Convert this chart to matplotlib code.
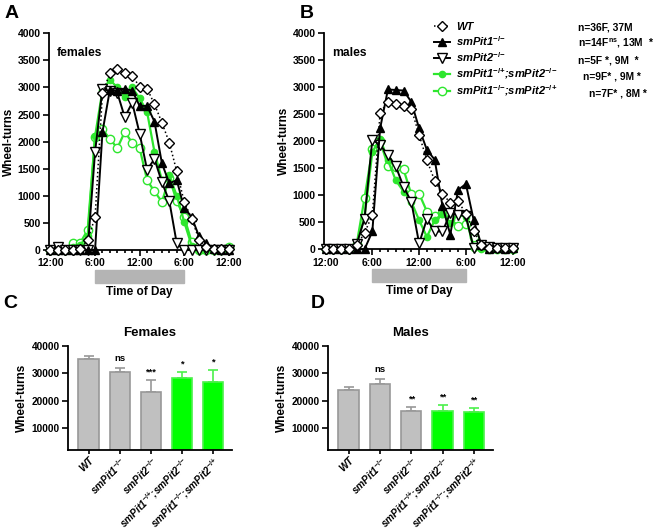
import numpy as np
import matplotlib
matplotlib.use('Agg')
import matplotlib.pyplot as plt
import matplotlib.transforms as mtransforms
from matplotlib.patches import Rectangle

plt.rcParams['font.family'] = ['Liberation Sans', 'DejaVu Sans']
plt.rcParams['font.weight'] = 'bold'
plt.rcParams['mathtext.fontset'] = 'custom'
plt.rcParams['mathtext.rm'] = 'Liberation Sans:bold'
plt.rcParams['mathtext.it'] = 'Liberation Sans:italic:bold'
plt.rcParams['mathtext.bf'] = 'Liberation Sans:bold'

# hourly bins, 12:00 (noon) -> 12:00 next day
hours = list(range(25))
time_ticks = [0, 6, 12, 18, 24]
time_labels = ['12:00', '6:00', '12:00', '6:00', '12:00']

# females (wheel-turns per hour)
wt_f = [0, 0, 0, 0, 20, 185, 600, 2900, 3260, 3340, 3260, 3220, 3010, 2980, 2690, 2350, 1980, 1450, 890, 580, 190, 50, 20, 20, 20]
pit1_f = [0, 0, 0, 0, 0, 0, 0, 2180, 2960, 2940, 2980, 2940, 2660, 2660, 2370, 1600, 1230, 1290, 770, 610, 250, 120, 10, 0, 0]
pit2_f = [0, 50, 0, 0, 0, 0, 1810, 2980, 2930, 2900, 2450, 2720, 2150, 1480, 1680, 1250, 900, 120, 0, 0, 0, 0, 0, 0, 0]
het1_f = [0, 0, 0, 50, 100, 250, 2100, 2950, 3140, 3000, 2830, 3000, 2800, 2550, 1810, 1290, 1380, 1000, 520, 80, 0, 0, 0, 0, 30]
het2_f = [0, 0, 0, 130, 130, 370, 2090, 2230, 2050, 1880, 2180, 1980, 1880, 1290, 1080, 890, 1330, 900, 610, 150, 0, 0, 0, 0, 50]

# males
wt_m = [0, 0, 0, 0, 80, 300, 640, 2530, 2730, 2690, 2650, 2600, 2120, 1650, 1270, 1030, 860, 890, 660, 340, 80, 30, 20, 20, 20]
pit1_m = [0, 0, 0, 0, 0, 0, 330, 2240, 2960, 2950, 2940, 2730, 2240, 1840, 1660, 800, 270, 1100, 1210, 540, 80, 0, 20, 0, 20]
pit2_m = [0, 0, 0, 0, 100, 570, 2030, 1930, 1750, 1540, 1160, 880, 110, 560, 330, 330, 670, 640, 620, 20, 80, 50, 30, 20, 20]
het1_m = [0, 0, 0, 0, 100, 600, 1800, 2050, 1650, 1280, 1070, 880, 540, 230, 540, 660, 480, 660, 600, 20, 0, 0, 0, 0, 0]
het2_m = [0, 0, 0, 0, 100, 950, 1850, 2000, 1550, 1530, 1480, 1020, 1030, 700, 620, 680, 570, 430, 470, 230, 50, 0, 0, 0, 0]

group_labels = ['WT',
                'smPit1$^{{-}/{-}}$',
                'smPit2$^{{-}/{-}}$',
                'smPit1$^{{-}/{+}}$;smPit2$^{{-}/{-}}$',
                'smPit1$^{{-}/{-}}$;smPit2$^{{-}/{+}}$']
n_labels = ['n=36F, 37M',
            r'n=14F$^{\mathrm{ns}}$, 13M  *',
            'n=5F *, 9M  *',
            'n=9F* , 9M *',
            'n=7F* , 8M *']

# total wheel-turns, mean and SEM
fem_mean = [35100, 30400, 23200, 28400, 26900]
fem_sem = [1150, 1400, 4400, 2000, 4200]
fem_sig = ['', 'ns', '***', '*', '*']
male_mean = [23800, 26100, 16200, 16000, 15900]
male_sem = [1300, 1750, 1500, 2350, 1400]
male_sig = ['', 'ns', '**', '**', '**']

GREEN = '#2ee62e'
styles = [
    dict(color='black', ls=':', marker='D', ms=5.5, mfc='white', mec='black', mew=1.0, lw=1.1, zorder=6),
    dict(color='black', ls='-', marker='^', ms=6, mfc='black', mec='black', lw=1.4, zorder=5),
    dict(color='black', ls='-', marker='v', ms=7, mfc='white', mec='black', mew=1.0, lw=1.4, zorder=4),
    dict(color=GREEN, ls='-', marker='o', ms=4.5, mfc=GREEN, mec=GREEN, lw=1.6, zorder=3),
    dict(color=GREEN, ls='-', marker='o', ms=6, mfc='white', mec=GREEN, mew=1.0, lw=1.6, zorder=2),
]

fig = plt.figure(figsize=(6.56, 5.30), dpi=100)
W, H = 656, 530


def px_axes(left, top, right, bottom):
    return fig.add_axes([left / W, 1 - bottom / H, (right - left) / W, (bottom - top) / H])


def time_panel(ax, series, note):
    lines = []
    for vals, st in zip(series, styles):
        ln, = ax.plot(hours, vals, clip_on=False, **st)
        lines.append(ln)
    ax.set_xlim(-0.2, 24.3)
    ax.set_ylim(0, 4000)
    ax.set_yticks(range(0, 4001, 500))
    ax.set_xticks(time_ticks)
    ax.set_xticklabels(time_labels)
    ax.set_xticks(hours, minor=True)
    for s in ['top', 'right']:
        ax.spines[s].set_visible(False)
    for s in ['left', 'bottom']:
        ax.spines[s].set_linewidth(1.3)
    ax.tick_params(which='both', direction='out', width=1.2, labelsize=7.5, pad=2)
    ax.tick_params(which='major', length=4)
    ax.tick_params(which='minor', length=2.5)
    ax.set_ylabel('Wheel-turns', fontsize=8.5, fontweight='bold', labelpad=2)
    tr = mtransforms.blended_transform_factory(ax.transData, ax.transAxes)
    ax.add_patch(Rectangle((6, -0.152), 12, 0.062, transform=tr, color='#b4b4b4', clip_on=False))
    ax.text(12, -0.192, 'Time of Day', transform=tr, ha='center', va='center', fontsize=8.5)
    ax.text(0.045, 0.91, note, transform=ax.transAxes, fontsize=8.7, va='center')
    return lines


def bar_panel(ax, means, sems, sig, title):
    x = np.arange(len(means))
    face = ['#c0c0c0'] * 3 + ['#00ff00'] * 2
    edge = ['#989898'] * 3 + ['#4cf04c'] * 2
    ax.bar(x, means, width=0.65, color=face, edgecolor=edge, linewidth=1.2, zorder=2)
    for i in x:
        ax.errorbar(i, means[i], yerr=[[0], [sems[i]]], fmt='none', ecolor=edge[i],
                    elinewidth=1.2, capsize=3.5, capthick=1.2, zorder=1)
        off = 2000 if sig[i] == 'ns' else 1300
        ax.text(i, means[i] + sems[i] + off, sig[i], ha='center', va='bottom', fontsize=6.8)
    ax.set_xlim(-0.65, 4.6)
    ax.set_ylim(1850, 40000)
    ax.set_yticks([10000, 20000, 30000, 40000])
    ax.set_xticks(x)
    ax.set_xticklabels(group_labels, rotation=45, ha='right', rotation_mode='anchor',
                       fontsize=5.0, fontstyle='italic')
    for s in ['top', 'right']:
        ax.spines[s].set_visible(False)
    for s in ['left', 'bottom']:
        ax.spines[s].set_linewidth(1.3)
    ax.tick_params(direction='out', width=1.2, length=4, labelsize=7.3, pad=2)
    ax.tick_params(axis='x', length=3, pad=0.5)
    ax.set_ylabel('Wheel-turns', fontsize=8.5, fontweight='bold', labelpad=3)
    ax.set_title(title, fontsize=9.5, fontweight='bold', pad=7)


ax_a = px_axes(49, 33.3, 231, 250)
ax_b = px_axes(324, 33.3, 515, 249.3)
ax_c = px_axes(68.3, 346, 231.7, 450)
ax_d = px_axes(328.3, 346, 492.7, 450)

time_panel(ax_a, [wt_f, pit1_f, pit2_f, het1_f, het2_f], 'females')
lines = time_panel(ax_b, [wt_m, pit1_m, pit2_m, het1_m, het2_m], 'males')
bar_panel(ax_c, fem_mean, fem_sem, fem_sig, 'Females')
bar_panel(ax_d, male_mean, male_sem, male_sig, 'Males')

ax_b.legend(lines, group_labels, loc='upper left', bbox_to_anchor=(434 / W, 1 - 21.5 / H),
            bbox_transform=fig.transFigure, frameon=False,
            prop=dict(size=8, style='italic', weight='bold'), handlelength=1.4,
            handletextpad=0.6, labelspacing=0.21, borderpad=0, borderaxespad=0)
n_xpos = [578, 578, 578, 583, 589]
for i, s in enumerate(n_labels):
    fig.text(n_xpos[i] / W, 1 - (27.3 + 16.5 * i) / H, s, fontsize=7.4, va='center')

for lab, (x, y) in zip('ABCD', [(12, 13), (307, 13), (10, 303), (318, 303)]):
    fig.text(x / W, 1 - y / H, lab, fontsize=14, fontweight='bold', ha='center', va='center')

fig.savefig('out.png', dpi=100)
